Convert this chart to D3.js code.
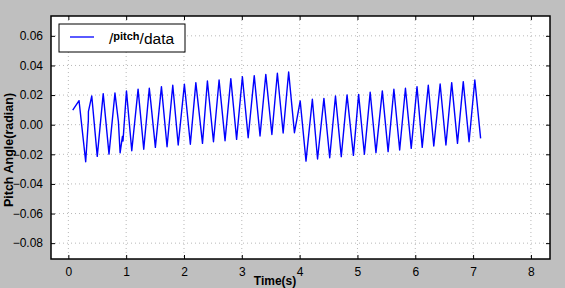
<!DOCTYPE html>
<html>
<head>
<meta charset="utf-8">
<script src="https://cdn.jsdelivr.net/npm/d3@7"></script>
<style>
  body { margin: 0; background: #bfbfbf; }
  text { font-family: "Liberation Sans", Arial, sans-serif; }
</style>
</head>
<body>
<div id="Data"></div>
<script>
// time (s) and pitch angle (rad)
const time = [0.076, 0.185, 0.30, 0.346, 0.347, 0.405, 0.50, 0.603, 0.703, 0.806, 0.866, 0.895, 0.935, 0.945,
  1.005, 1.097, 1.206, 1.304, 1.40, 1.425, 1.505, 1.61, 1.707, 1.806, 1.90, 2.007, 2.11, 2.205,
  2.32, 2.405, 2.51, 2.607, 2.71, 2.81, 2.91, 3.01, 3.11, 3.215, 3.315, 3.415, 3.52, 3.615,
  3.715, 3.81, 3.91, 4.01, 4.11, 4.22, 4.31, 4.42, 4.52, 4.62, 4.72, 4.82, 4.93, 5.02,
  5.12, 5.22, 5.32, 5.43, 5.53, 5.63, 5.73, 5.83, 5.93, 6.03, 6.12, 6.225, 6.32, 6.43,
  6.53, 6.63, 6.73, 6.83, 6.93, 7.03, 7.13];
const pitch = [0.0099, 0.0162, -0.025, 0.003, 0.0088, 0.0194, -0.0214, 0.021, -0.0199, 0.0214, 0.002, -0.019, -0.008, -0.011,
  0.0228, -0.0176, 0.024, -0.0166, 0.0246, 0.0156, -0.0153, 0.0257, -0.0149, 0.0266, -0.0137, 0.0273, -0.0132, 0.0284,
  -0.0126, 0.0295, -0.0115, 0.0302, -0.0108, 0.0311, -0.0099, 0.0324, -0.0088, 0.0331, -0.0076, 0.034, -0.0066, 0.0347,
  -0.0056, 0.0356, -0.0054, 0.016, -0.0246, 0.0172, -0.0232, 0.0178, -0.0223, 0.0194, -0.0216, 0.0201, -0.0207, 0.0205,
  -0.020, 0.0219, -0.0189, 0.0228, -0.0182, 0.0239, -0.0171, 0.0246, -0.016, 0.0257, -0.0153, 0.0266, -0.0144, 0.0275,
  -0.0137, 0.0284, -0.0126, 0.0291, -0.0115, 0.0302, -0.0092];

const xTicks = [0, 1, 2, 3, 4, 5, 6, 7, 8];
const yTicks = [-0.08, -0.06, -0.04, -0.02, 0, 0.02, 0.04, 0.06];
const xDomain = [-0.3, 8.33];
const yDomain = [-0.0907, 0.0734];

const width = 565, height = 288;
const plotLeft = 51, plotRight = 550, plotTop = 16, plotBottom = 259;

const svg = d3.select("#Data")
              .append("svg")
              .attr("width", width)
              .attr("height", height)
              .style("display", "block");

svg.append("rect").attr("width", width).attr("height", height).attr("fill", "#bfbfbf");

const xScale = d3.scaleLinear().domain(xDomain).range([plotLeft, plotRight]);
const yScale = d3.scaleLinear().domain(yDomain).range([plotBottom, plotTop]);

// plot area
svg.append("rect")
   .attr("x", plotLeft).attr("y", plotTop)
   .attr("width", plotRight - plotLeft).attr("height", plotBottom - plotTop)
   .attr("fill", "white");

// grid
svg.append("g").selectAll("line").data(xTicks).join("line")
   .attr("x1", d => xScale(d)).attr("x2", d => xScale(d))
   .attr("y1", plotTop).attr("y2", plotBottom)
   .attr("stroke", "#b8b8b8").attr("stroke-dasharray", "1,3");
svg.append("g").selectAll("line").data(yTicks).join("line")
   .attr("y1", d => yScale(d)).attr("y2", d => yScale(d))
   .attr("x1", plotLeft).attr("x2", plotRight)
   .attr("stroke", "#b8b8b8").attr("stroke-dasharray", "1,3");

// axes, ticks pointing inward
const fmt = d => d3.format(".2f")(d).replace("-", "\u2212");
const xAxis = svg.append("g")
   .attr("transform", `translate(0, ${plotBottom})`)
   .call(d3.axisBottom(xScale).tickValues(xTicks).tickSizeInner(-4).tickSizeOuter(0).tickPadding(8));
const xAxisTop = svg.append("g")
   .attr("transform", `translate(0, ${plotTop})`)
   .call(d3.axisTop(xScale).tickValues(xTicks).tickSizeInner(-4).tickSizeOuter(0).tickFormat(""));
const yAxis = svg.append("g")
   .attr("transform", `translate(${plotLeft}, 0)`)
   .call(d3.axisLeft(yScale).tickValues(yTicks).tickSizeInner(-4).tickSizeOuter(0).tickPadding(8).tickFormat(fmt));
const yAxisRight = svg.append("g")
   .attr("transform", `translate(${plotRight}, 0)`)
   .call(d3.axisRight(yScale).tickValues(yTicks).tickSizeInner(-4).tickSizeOuter(0).tickFormat(""));

[xAxis, xAxisTop, yAxis, yAxisRight].forEach(g => {
  g.select(".domain").remove();
  g.selectAll("line").attr("stroke", "black");
  g.selectAll("text").attr("font-size", 12).attr("fill", "black")
   .attr("font-family", '"Liberation Sans", Arial, sans-serif');
});

// clip
svg.append("clipPath").attr("id", "clip")
   .append("rect").attr("x", plotLeft).attr("y", plotTop)
   .attr("width", plotRight - plotLeft).attr("height", plotBottom - plotTop);

const line = d3.line()
    .x((d, i) => xScale(time[i]))
    .y(d => yScale(d));

svg.append("path")
   .datum(pitch)
   .attr("d", line)
   .attr("clip-path", "url(#clip)")
   .attr("fill", "none")
   .attr("stroke", "#0000ff")
   .attr("stroke-width", 1.4)
   .attr("stroke-linejoin", "round");

// frame
svg.append("rect")
   .attr("x", plotLeft).attr("y", plotTop)
   .attr("width", plotRight - plotLeft).attr("height", plotBottom - plotTop)
   .attr("fill", "none").attr("stroke", "black").attr("stroke-width", 1.5);

// axis labels
svg.append("text")
   .attr("x", 275).attr("y", 285)
   .attr("text-anchor", "middle")
   .attr("font-family", '"Liberation Sans Narrow", sans-serif')
   .attr("font-weight", "bold").attr("font-size", 12)
   .text("Time(s)");
svg.append("text")
   .attr("transform", "translate(13, 150) rotate(-90)")
   .attr("text-anchor", "middle")
   .attr("font-family", '"Liberation Sans Narrow", sans-serif')
   .attr("font-weight", "bold").attr("font-size", 12.5)
   .text("Pitch Angle(radian)");

// legend
svg.append("rect")
   .attr("x", 59).attr("y", 24).attr("width", 126).attr("height", 28)
   .attr("fill", "white").attr("stroke", "black").attr("stroke-width", 1);
svg.append("line")
   .attr("x1", 70).attr("x2", 94).attr("y1", 37).attr("y2", 37)
   .attr("stroke", "#0000ff").attr("stroke-width", 1.3);
const lg = svg.append("text").attr("x", 109).attr("y", 43.5).attr("font-size", 15.5);
lg.append("tspan").text("/");
lg.append("tspan")
  .attr("dy", -3.5)
  .attr("font-family", '"Liberation Sans Narrow", sans-serif')
  .attr("font-weight", "bold").attr("font-size", 11)
  .text("pitch");
lg.append("tspan").attr("dy", 3.5).text("/data");
</script>
</body>
</html>
